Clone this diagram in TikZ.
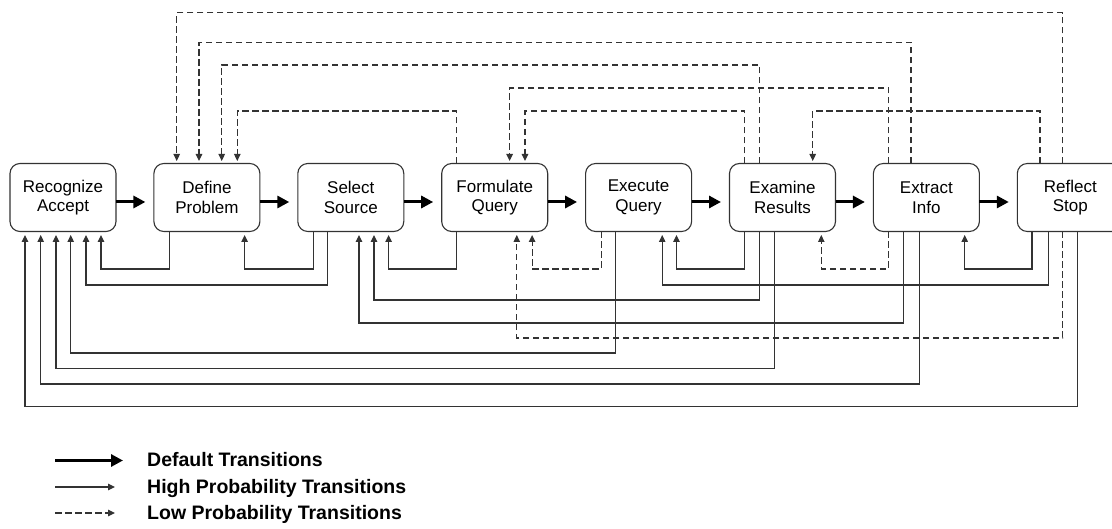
\documentclass[tikz,border=0pt]{standalone}
\usepackage{fontspec}
\setmainfont{Liberation Sans}
\usetikzlibrary{arrows.meta,calc}

\tikzset{
  stage/.style={draw=black!80, line width=1.1pt, rounded corners=10pt,
    minimum width=106pt, minimum height=68pt, inner sep=0pt, outer sep=0pt,
    align=center, font=\fontsize{17}{19.5}\selectfont},
  deflt/.style={draw=black, line width=3pt, -{Triangle[length=12pt,width=12pt]}},
  high/.style={draw=black!80, line width=1.1pt, -{Triangle[length=7pt,width=6.5pt]}},
  low/.style={high, dash pattern=on 6.5pt off 3.5pt},
  legtext/.style={anchor=base west, inner sep=0pt,
    font=\fontsize{19.5}{22}\selectfont\bfseries}
}

\begin{document}
\begin{tikzpicture}[x=1pt, y=-1pt]
\useasboundingbox (0,0) rectangle (1112,529);

% stages of the process
\node[stage] (rec)  at (63,197.5)    {Recognize\\Accept};
\node[stage] (def)  at (206.9,197.5) {Define\\Problem};
\node[stage] (sel)  at (350.8,197.5) {Select\\Source};
\node[stage] (form) at (494.7,197.5) {Formulate\\Query};
\node[stage] (exe)  at (638.6,197.5) {Execute\\Query};
\node[stage] (exam) at (782.5,197.5) {Examine\\Results};
\node[stage] (extr) at (926.4,197.5) {Extract\\Info};
\node[stage] (refl) at (1070.3,197.5){Reflect\\Stop};

% default transitions
\draw[deflt] ($(rec.east)+(0,4.5)$)  -- ($(def.west)+(-8.5,4.5)$);
\draw[deflt] ($(def.east)+(0,4.5)$)  -- ($(sel.west)+(-8.5,4.5)$);
\draw[deflt] ($(sel.east)+(0,4.5)$)  -- ($(form.west)+(-8.5,4.5)$);
\draw[deflt] ($(form.east)+(0,4.5)$) -- ($(exe.west)+(-8.5,4.5)$);
\draw[deflt] ($(exe.east)+(0,4.5)$)  -- ($(exam.west)+(-8.5,4.5)$);
\draw[deflt] ($(exam.east)+(0,4.5)$) -- ($(extr.west)+(-8.5,4.5)$);
\draw[deflt] ($(extr.east)+(0,4.5)$) -- ($(refl.west)+(-8.5,4.5)$);

% low probability transitions above the row
\draw[low] ($(refl.north west)+(45.2,0)$) -- ++(0,-150.8) -| ($(def.north west)+(22.8,-2.5)$);
\draw[low] ($(extr.north west)+(37.6,0)$) -- ++(0,-121.2) -| ($(def.north west)+(45.1,-2.5)$);
\draw[low] ($(exam.north west)+(30.2,0)$) -- ++(0,-98.5)  -| ($(def.north west)+(67.8,-2.5)$);
\draw[low] ($(extr.north west)+(15.3,0)$) -- ++(0,-75.5)  -| ($(form.north west)+(67.9,-2.5)$);
\draw[low] ($(form.north west)+(14.7,0)$) -- ++(0,-52.5)  -| ($(def.north west)+(83.4,-2.5)$);
\draw[low] ($(exam.north west)+(15.1,0)$) -- ++(0,-52.5)  -| ($(form.north west)+(83.3,-2.5)$);
\draw[low] ($(refl.north west)+(22.7,0)$) -- ++(0,-52.5)  -| ($(exam.north west)+(83.2,-2.5)$);

% high probability transitions below the row
\draw[high] ($(def.south west)+(15.4,0)$)  -- ++(0,37.5)  -| ($(rec.south west)+(91,3.5)$);
\draw[high] ($(sel.south west)+(15.4,0)$)  -- ++(0,37.5)  -| ($(def.south west)+(90.7,3.5)$);
\draw[high] ($(form.south west)+(14.7,0)$) -- ++(0,37.5)  -| ($(sel.south west)+(90.8,3.5)$);
\draw[high] ($(exam.south west)+(15.1,0)$) -- ++(0,37.5)  -| ($(exe.south west)+(90.9,3.5)$);
\draw[high] ($(refl.south west)+(14.7,0)$) -- ++(0,37.5)  -| ($(extr.south west)+(91.3,3.5)$);
\draw[high] ($(sel.south west)+(30.1,0)$)  -- ++(0,53.5)  -| ($(rec.south west)+(76,3.5)$);
\draw[high] ($(refl.south west)+(30.9,0)$) -- ++(0,53.5)  -| ($(exe.south west)+(76.6,3.5)$);
\draw[high] ($(exam.south west)+(30.2,0)$) -- ++(0,68.5)  -| ($(sel.south west)+(76.2,3.5)$);
\draw[high] ($(extr.south west)+(30.4,0)$) -- ++(0,91.5)  -| ($(sel.south west)+(61.2,3.5)$);
\draw[high] ($(exe.south west)+(30,0)$)    -- ++(0,121.5) -| ($(rec.south west)+(60.7,3.5)$);
\draw[high] ($(exam.south west)+(45.2,0)$) -- ++(0,137)   -| ($(rec.south west)+(46,3.5)$);
\draw[high] ($(extr.south west)+(45.8,0)$) -- ++(0,152.5) -| ($(rec.south west)+(30.7,3.5)$);
\draw[high] ($(refl.south west)+(60.3,0)$) -- ++(0,175)   -| ($(rec.south west)+(15,3.5)$);

% low probability transitions below the row
\draw[low] ($(exe.south west)+(15.7,0)$)  -- ++(0,37.5)  -| ($(form.south west)+(90.4,3.5)$);
\draw[low] ($(extr.south west)+(15.3,0)$) -- ++(0,37.5)  -| ($(exam.south west)+(91.8,3.5)$);
\draw[low] ($(refl.south west)+(45.2,0)$) -- ++(0,106.5) -| ($(form.south west)+(75.1,3.5)$);

% legend
\coordinate (k1a) at (55,460.5);  \coordinate (k1b) at (123,460.5);
\coordinate (k2a) at (55,487);    \coordinate (k2b) at (115,487);
\coordinate (k3a) at (55,513);    \coordinate (k3b) at (115,513);
\draw[deflt] (k1a) -- (k1b);
\draw[high]  (k2a) -- (k2b);
\draw[low]   (k3a) -- (k3b);
\node[legtext] (k1t) at (147,467)   {Default Transitions};
\node[legtext] (k2t) at (147,493.5) {High Probability Transitions};
\node[legtext] (k3t) at (147,519.5) {Low Probability Transitions};
\end{tikzpicture}
\end{document}
